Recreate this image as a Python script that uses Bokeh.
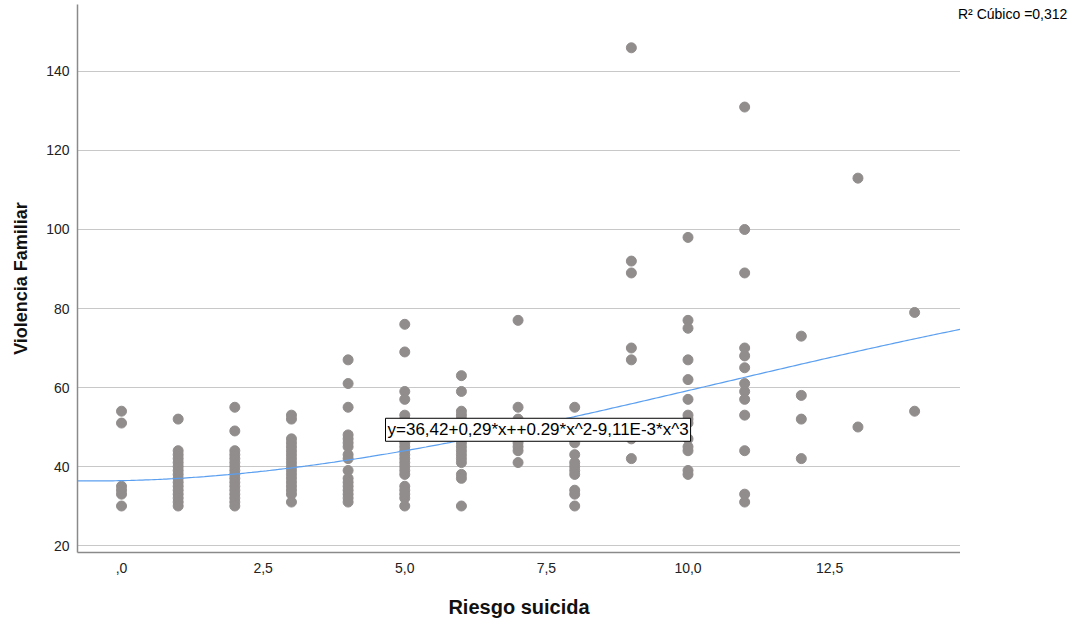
import numpy as np
from bokeh.plotting import figure
from bokeh.models import Range1d, FixedTicker, Label, ColumnDataSource, Div
from bokeh.layouts import row
from bokeh.embed import file_html
from bokeh.resources import INLINE

# ---- data ----
riesgo_0 = [54, 51, 35, 34, 33, 30]
riesgo_1 = [52, 44, 43, 42, 41, 40, 39, 38, 37, 36, 35, 34, 33, 32, 31, 30]
riesgo_2 = [55, 49, 44, 43, 42, 41, 40, 39, 38, 37, 36, 35, 34, 33, 32, 31, 30]
riesgo_3 = [53, 52, 47, 46, 45, 44, 43, 42, 41, 40, 39, 38, 37, 36, 35, 34, 33, 31]
riesgo_4 = [67, 61, 55, 48, 47, 46, 45, 43, 42, 39, 37, 36, 35, 34, 33, 32, 31]
riesgo_5 = [76, 69, 59, 57, 53, 52, 51, 50, 49, 48, 47, 46, 45, 44, 43, 42, 41, 40,
            39, 38, 35, 34, 33, 32, 30]
riesgo_6 = [63, 59, 54, 53, 52, 51, 50, 49, 48, 47, 46, 45, 44, 43, 42, 41, 38, 37, 30]
riesgo_7 = [77, 55, 52, 50, 47, 46, 45, 44, 41]
riesgo_8 = [55, 50, 46, 43, 41, 40, 39, 38, 34, 33, 30]
riesgo_9 = [146, 92, 89, 70, 67, 50, 47, 42]
riesgo_10 = [98, 77, 75, 67, 62, 57, 53, 52, 51, 47, 45, 44, 39, 38]
riesgo_11 = [131, 100, 89, 70, 68, 65, 61, 59, 57, 53, 44, 33, 31]
riesgo_12 = [73, 58, 52, 42]
riesgo_13 = [113, 50]
riesgo_14 = [79, 54]

violencia_by_riesgo = [riesgo_0, riesgo_1, riesgo_2, riesgo_3, riesgo_4, riesgo_5,
                       riesgo_6, riesgo_7, riesgo_8, riesgo_9, riesgo_10, riesgo_11,
                       riesgo_12, riesgo_13, riesgo_14]

# cubic fit coefficients as printed on the chart: b0, b1, b2, b3
cubic_coefs = [36.42, 0.29, 0.29, -9.11e-3]
fit_label = "y=36,42+0,29*x++0.29*x^2-9,11E-3*x^3"
r2_label = "R\u00b2 C\u00fabico =0,312"

x_ticks = [0, 2.5, 5, 7.5, 10, 12.5]
x_tick_labels = [",0", "2,5", "5,0", "7,5", "10,0", "12,5"]
y_ticks = [20, 40, 60, 80, 100, 120, 140]

# ---- build ----
xs, ys = [], []
for r, vals in enumerate(violencia_by_riesgo):
    xs += [r] * len(vals)
    ys += vals
src = ColumnDataSource(dict(x=xs, y=ys))

x_lo, x_hi = -0.777, 14.81
y_lo, y_hi = 18.23, 156.96

p = figure(width=960, height=620, output_backend="svg", toolbar_location=None,
           x_range=Range1d(x_lo, x_hi), y_range=Range1d(y_lo, y_hi),
           min_border_left=77, min_border_right=0, min_border_top=4,
           min_border_bottom=68)
p.outline_line_color = None
p.background_fill_color = "white"
p.border_fill_color = "white"

FONT = "Liberation Sans"
for ax in (p.xaxis[0], p.yaxis[0]):
    ax.axis_line_color = "#8a8a8a"
    ax.axis_line_width = 1.5
    ax.major_tick_line_color = None
    ax.minor_tick_line_color = None
    ax.major_tick_out = 0
    ax.major_tick_in = 0
    ax.minor_tick_out = 0
    ax.major_label_text_font = FONT
    ax.major_label_text_font_size = "14px"
    ax.major_label_text_color = "#222222"
    ax.axis_label_text_font = FONT
    ax.axis_label_text_font_style = "bold"
    ax.axis_label_text_color = "#111111"

p.xaxis.ticker = FixedTicker(ticks=x_ticks)
p.xaxis.major_label_overrides = {t: l for t, l in zip(x_ticks, x_tick_labels)}
p.xaxis.major_label_standoff = 10
p.xaxis.axis_label = "Riesgo suicida"
p.xaxis.axis_label_text_font_size = "20px"
p.xaxis.axis_label_standoff = 20

p.yaxis.ticker = FixedTicker(ticks=y_ticks)
p.yaxis.major_label_standoff = 8
p.yaxis.axis_label = "Violencia Familiar"
p.yaxis.axis_label_text_font_size = "18px"
p.yaxis.axis_label_standoff = 12

p.xgrid.grid_line_color = None
p.ygrid.grid_line_color = "#c8c8c8"
p.ygrid.grid_line_width = 1.2

p.scatter("x", "y", source=src, size=10, fill_color="#928d8d", line_color="#928d8d")

xf = np.linspace(x_lo, x_hi, 300)
yf = sum(c * xf ** i for i, c in enumerate(cubic_coefs))
p.line(xf, yf, line_color="#5b9ff0", line_width=1.2)

p.add_layout(Label(x=4.66, y=49.3, text=fit_label, text_font=FONT,
                   text_font_size="17px", text_color="black",
                   text_baseline="middle", text_align="left",
                   padding=2,
                   border_line_color="black", border_line_width=1,
                   background_fill_color="white"))

r2 = Div(text=r2_label, width=115, height=620, margin=(0, 0, 0, 0),
         styles={"font-family": FONT, "font-size": "14px", "color": "black",
                 "padding-top": "4px", "margin-left": "-2px",
                 "white-space": "nowrap"})

layout = row(p, r2, spacing=0)
open("out.html", "w").write(file_html(layout, INLINE))
